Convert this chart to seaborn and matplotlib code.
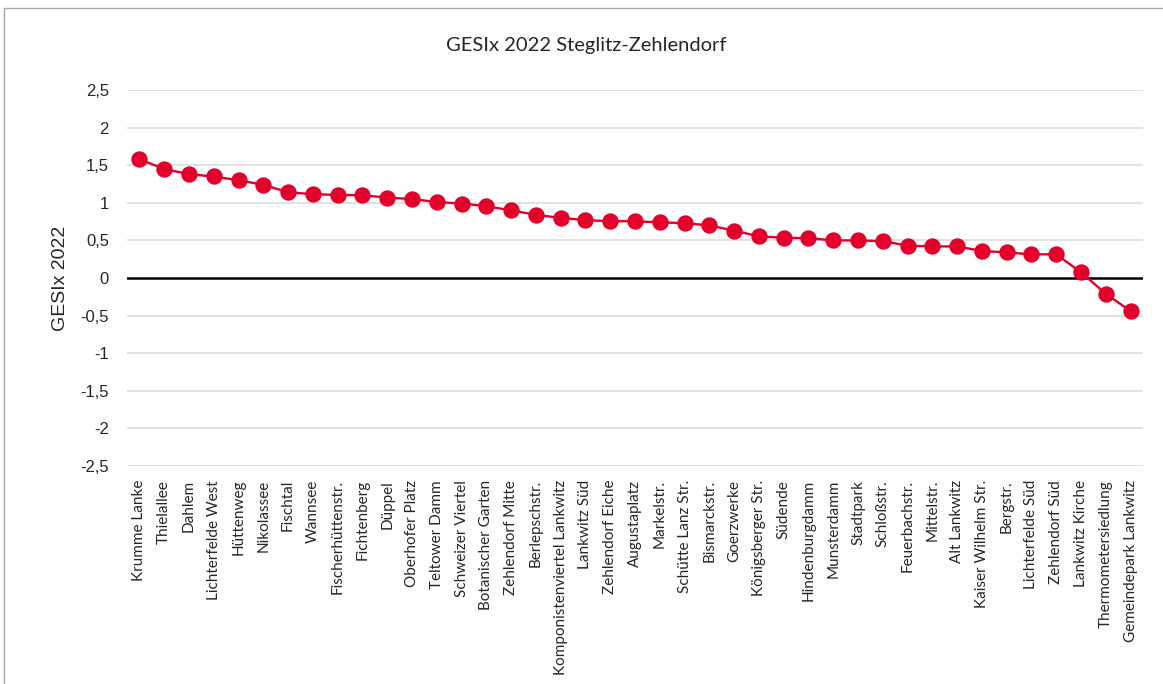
import matplotlib
matplotlib.use("Agg")
import matplotlib.pyplot as plt
import matplotlib.patches as mpatches
from matplotlib.ticker import FuncFormatter, MultipleLocator
import seaborn as sns
import pandas as pd

# GESIx 2022 scores for the districts of Steglitz-Zehlendorf, sorted descending
gebiete = [
    "Krumme Lanke", "Thielallee", "Dahlem", "Lichterfelde West", "Hüttenweg",
    "Nikolassee", "Fischtal", "Wannsee", "Fischerhüttenstr.", "Fichtenberg",
    "Düppel", "Oberhofer Platz", "Teltower Damm", "Schweizer Viertel",
    "Botanischer Garten", "Zehlendorf Mitte", "Berlepschstr.",
    "Komponistenviertel Lankwitz", "Lankwitz Süd", "Zehlendorf Eiche",
    "Augustaplatz", "Markelstr.", "Schütte Lanz Str.", "Bismarckstr.",
    "Goerzwerke", "Königsberger Str.", "Südende", "Hindenburgdamm",
    "Munsterdamm", "Stadtpark", "Schloßstr.", "Feuerbachstr.", "Mittelstr.",
    "Alt Lankwitz", "Kaiser Wilhelm Str.", "Bergstr.", "Lichterfelde Süd",
    "Zehlendorf Süd", "Lankwitz Kirche", "Thermometersiedlung",
    "Gemeindepark Lankwitz",
]
gesix = [
    1.58, 1.45, 1.38, 1.35, 1.30,
    1.24, 1.14, 1.115, 1.105, 1.10,
    1.07, 1.05, 1.01, 0.99,
    0.955, 0.90, 0.84,
    0.80, 0.77, 0.755,
    0.755, 0.74, 0.73, 0.70,
    0.63, 0.555, 0.535, 0.53,
    0.50, 0.50, 0.49, 0.43, 0.42,
    0.42, 0.36, 0.34, 0.315,
    0.315, 0.075, -0.21,
    -0.44,
]
y_ticks = [2.5, 2.0, 1.5, 1.0, 0.5, 0.0, -0.5, -1.0, -1.5, -2.0, -2.5]

title = "GESIx 2022 Steglitz-Zehlendorf"
y_label = "GESIx 2022"

RED = "#E3002B"
GRID = "#D9D9D9"
TEXT = "#262626"
GEO_FONT = ["Lato", "DejaVu Sans"]
SANS_FONT = ["Liberation Sans", "DejaVu Sans"]

sns.set_theme(style="white")
plt.rcParams["font.family"] = GEO_FONT

df = pd.DataFrame({"Gebiet": gebiete, "GESIx": gesix})

fig = plt.figure(figsize=(11.63, 6.84), dpi=100)
ax = fig.add_axes([0.1092, 0.3187, 0.8736, 0.5497])

# Thin frame around the chart area
fig.patches.append(mpatches.Rectangle(
    (4 / 1163, -0.05), 1.2, 1 - 7.5 / 684 + 0.05,
    transform=fig.transFigure, fill=False, edgecolor="#A6A6A6",
    linewidth=1.0, zorder=0))

for t in y_ticks:
    if t != 0:
        ax.axhline(t, color=GRID, linewidth=1.1, zorder=0)
ax.axhline(0, color="black", linewidth=1.8, zorder=1)

sns.pointplot(data=df, x="Gebiet", y="GESIx", color=RED, markers="o",
              linestyles="-", markersize=10.5, linewidth=1.7, ax=ax, zorder=3)

ax.set_ylim(-2.5, 2.5)
ax.set_xlim(-0.5, len(gebiete) - 0.5)
ax.yaxis.set_major_locator(MultipleLocator(0.5))
ax.yaxis.set_major_formatter(FuncFormatter(
    lambda v, _: f"{v:g}".replace(".", ",") if abs(v) > 1e-9 else "0"))

for s in ax.spines.values():
    s.set_visible(False)

ax.tick_params(axis="y", length=0, pad=13, labelsize=12, labelcolor=TEXT)
ax.tick_params(axis="x", length=0, pad=10, labelsize=11, labelcolor=TEXT)
for lab in ax.get_yticklabels():
    lab.set_family(SANS_FONT)
ax.set_xticks(range(len(gebiete)))
ax.set_xticklabels(gebiete, rotation=90, va="top", ha="center", family=GEO_FONT)

ax.set_xlabel("")
ax.set_ylabel(y_label, fontsize=14, color=TEXT, family=SANS_FONT, labelpad=8)
fig.text(0.5045, 1 - 45 / 684, title, ha="center", va="center",
         fontsize=14.5, color=TEXT, family=GEO_FONT)

fig.savefig("out.png", dpi=100)
